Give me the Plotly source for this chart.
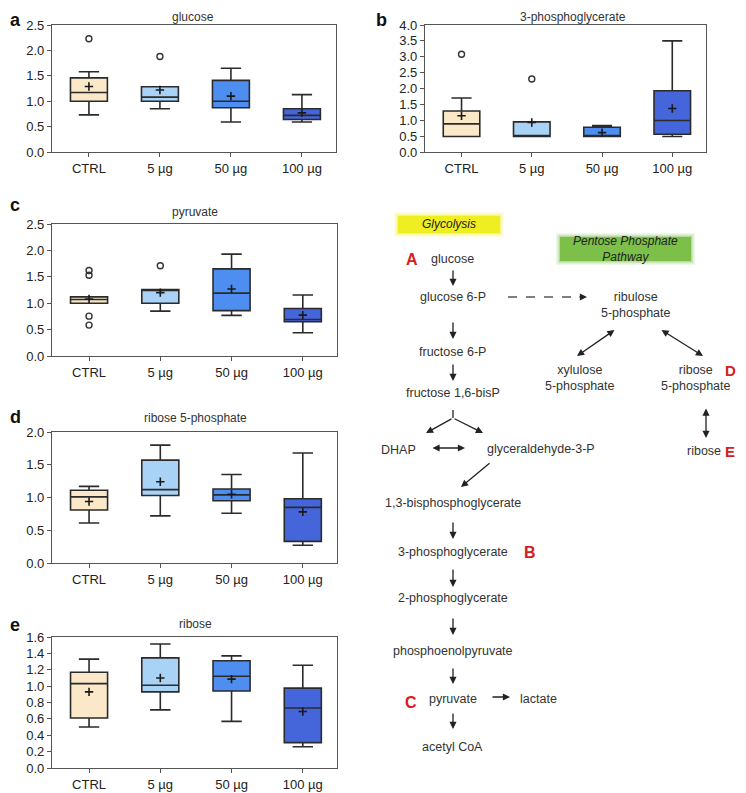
import plotly.graph_objects as go

categories = ["CTRL", "5 µg", "50 µg", "100 µg"]
colors = ["#FAE8C8", "#A9D2F7", "#4D8EF0", "#4565DB"]

# panel data: lower whisker, q1, median, q3, upper whisker, mean, outliers
glucose_low = [0.73, 0.85, 0.59, 0.59]
glucose_q1 = [1.00, 1.00, 0.87, 0.64]
glucose_med = [1.17, 1.08, 1.00, 0.72]
glucose_q3 = [1.46, 1.285, 1.41, 0.85]
glucose_up = [1.58, 1.285, 1.65, 1.13]
glucose_mean = [1.29, 1.22, 1.10, 0.77]
glucose_out = [[2.23], [1.88], [], []]

pg3_low = [0.49, 0.49, 0.49, 0.49]
pg3_q1 = [0.49, 0.49, 0.49, 0.56]
pg3_med = [0.885, 0.50, 0.50, 0.99]
pg3_q3 = [1.29, 0.95, 0.78, 1.93]
pg3_up = [1.70, 0.95, 0.83, 3.50]
pg3_mean = [1.14, 0.93, 0.61, 1.37]
pg3_out = [[3.08], [2.30], [], []]

pyr_low = [1.00, 0.85, 0.77, 0.44]
pyr_q1 = [1.00, 1.00, 0.86, 0.65]
pyr_med = [1.07, 1.26, 1.19, 0.69]
pyr_q3 = [1.12, 1.26, 1.65, 0.90]
pyr_up = [1.12, 1.26, 1.93, 1.155]
pyr_mean = [1.08, 1.20, 1.27, 0.775]
pyr_out = [[1.62, 1.53, 0.755, 0.585], [1.71], [], []]

r5p_low = [0.61, 0.72, 0.76, 0.27]
r5p_q1 = [0.81, 1.03, 0.95, 0.33]
r5p_med = [1.01, 1.12, 1.04, 0.85]
r5p_q3 = [1.11, 1.57, 1.13, 0.98]
r5p_up = [1.17, 1.80, 1.35, 1.68]
r5p_mean = [0.94, 1.24, 1.05, 0.78]
r5p_out = [[], [], [], []]

rib_low = [0.50, 0.71, 0.57, 0.26]
rib_q1 = [0.61, 0.93, 0.94, 0.31]
rib_med = [1.03, 1.01, 1.12, 0.733]
rib_q3 = [1.17, 1.345, 1.31, 0.976]
rib_up = [1.33, 1.515, 1.37, 1.255]
rib_mean = [0.93, 1.10, 1.085, 0.69]
rib_out = [[], [], [], []]

W, H = 746, 793
OFF = 8  # page body margin: the figure is drawn 8px right and down


def px(x):
    return (x - OFF) / W


def py(y):
    return 1 - (y - OFF) / H


panels = [
    dict(letter="a", title="glucose", bx=(0, 15), tx=(193, 15), px=(52, 336), py=(25, 152), rng=[0, 2.5], dt=0.5,
         d=(glucose_low, glucose_q1, glucose_med, glucose_q3, glucose_up, glucose_mean, glucose_out)),
    dict(letter="b", title="3-phosphoglycerate", bx=(374, 15), tx=(573, 15), px=(425, 706), py=(25, 152),
         rng=[0, 4.0], dt=0.5,
         d=(pg3_low, pg3_q1, pg3_med, pg3_q3, pg3_up, pg3_mean, pg3_out)),
    dict(letter="c", title="pyruvate", bx=(0, 205), tx=(195, 212), px=(52, 337), py=(224, 356), rng=[0, 2.5],
         dt=0.5,
         d=(pyr_low, pyr_q1, pyr_med, pyr_q3, pyr_up, pyr_mean, pyr_out)),
    dict(letter="d", title="ribose 5-phosphate", bx=(0, 417), tx=(195, 418), px=(52, 337), py=(432, 563),
         rng=[0, 2.0], dt=0.5,
         d=(r5p_low, r5p_q1, r5p_med, r5p_q3, r5p_up, r5p_mean, r5p_out)),
    dict(letter="e", title="ribose", bx=(0, 625), tx=(195, 624), px=(52, 337), py=(637, 768), rng=[0, 1.6],
         dt=0.2,
         d=(rib_low, rib_q1, rib_med, rib_q3, rib_up, rib_mean, rib_out)),
]

fig = go.Figure()
annotations = []
shapes = []
layout_axes = {}
font_fam = "Liberation Sans, Arial, sans-serif"

for i, p in enumerate(panels, start=1):
    xa = "x" if i == 1 else f"x{i}"
    ya = "y" if i == 1 else f"y{i}"
    low, q1, med, q3, up, mean, out = p["d"]
    for j, cat in enumerate(categories):
        fig.add_trace(go.Box(
            x=[cat], q1=[q1[j]], median=[med[j]], q3=[q3[j]],
            lowerfence=[low[j]], upperfence=[up[j]],
            fillcolor=colors[j], line=dict(color="#2b2b2b", width=1.6),
            whiskerwidth=0.55, width=0.52, boxpoints=False,
            xaxis=xa, yaxis=ya, showlegend=False, hoverinfo="skip"))
    fig.add_trace(go.Scatter(
        x=categories, y=mean, mode="markers", xaxis=xa, yaxis=ya,
        marker=dict(symbol="cross-thin", size=6, line=dict(color="#1a1a1a", width=1.6)),
        showlegend=False, hoverinfo="skip"))
    ox, oy = [], []
    for j, cat in enumerate(categories):
        for v in out[j]:
            ox.append(cat)
            oy.append(v)
    if ox:
        fig.add_trace(go.Scatter(
            x=ox, y=oy, mode="markers", xaxis=xa, yaxis=ya,
            marker=dict(symbol="circle-open", size=6, color="#333", line=dict(width=1.4)),
            showlegend=False, hoverinfo="skip"))
    x0, x1 = p["px"]
    y0, y1 = p["py"]
    key = "" if i == 1 else str(i)
    layout_axes["xaxis" + key] = dict(
        domain=[px(x0), px(x1)], anchor=ya, type="category", categoryorder="array",
        categoryarray=categories, range=[-0.52, 3.48], showline=True, mirror=True,
        linecolor="#555", linewidth=1.3, ticks="outside", ticklen=4, tickcolor="#555",
        showgrid=False, zeroline=False, tickfont=dict(size=13, color="#222", family=font_fam),
        fixedrange=True)
    layout_axes["yaxis" + key] = dict(
        domain=[py(y1), py(y0)], anchor=xa, range=p["rng"], dtick=p["dt"], tickformat=".1f",
        showline=True, mirror=True, linecolor="#555", linewidth=1.3,
        ticks="outside", ticklen=4, tickcolor="#555", showgrid=False, zeroline=False,
        tickfont=dict(size=13, color="#222", family=font_fam), fixedrange=True)
    tx, ty = p["tx"]
    top = py(ty) >= 0.99
    annotations.append(dict(text=p["title"], x=px(tx), y=1.0 if top else py(ty), xref="paper", yref="paper",
                            showarrow=False, xanchor="center", yanchor="top" if top else "middle",
                            font=dict(size=12, color="#333", family=font_fam)))
    bx, by = p["bx"]
    btop = py(by) >= 0.99
    annotations.append(dict(text="<b>" + p["letter"] + "</b>", x=max(px(bx), 0), y=1.0 if btop else py(by),
                            xref="paper", yref="paper", showarrow=False, xanchor="left",
                            yanchor="top" if btop else "middle",
                            font=dict(size=18, color="#111", family=font_fam)))


def txt(s, x, y, size=12.5, color="#333", italic=False, bold=False, anchor="center"):
    if italic:
        s = "<i>" + s + "</i>"
    if bold:
        s = "<b>" + s + "</b>"
    annotations.append(dict(text=s, x=px(x), y=py(y), xref="paper", yref="paper", showarrow=False,
                            xanchor=anchor, yanchor="middle",
                            font=dict(size=size, color=color, family=font_fam)))


def arrow(xs, ys, xe, ye, both=False):
    annotations.append(dict(x=px(xe), y=py(ye), ax=xs - xe, ay=ys - ye, xref="paper", yref="paper",
                            showarrow=True, arrowhead=2, arrowsize=1.1, arrowwidth=1.3,
                            arrowcolor="#222", text="", arrowside="end+start" if both else "end"))


def glow_box(x0, y0, x1, y1, color):
    for k, op in [(4, 0.12), (2.5, 0.2), (1.2, 0.35)]:
        shapes.append(dict(type="rect", xref="paper", yref="paper", x0=px(x0 - k), x1=px(x1 + k),
                           y0=py(y0 - k), y1=py(y1 + k),
                           fillcolor=color, opacity=op, line=dict(width=0), layer="below"))
    shapes.append(dict(type="rect", xref="paper", yref="paper", x0=px(x0), x1=px(x1), y0=py(y0), y1=py(y1),
                       fillcolor=color, line=dict(width=0), layer="below"))


glow_box(398, 216, 500, 233, "#EEEE22")
glow_box(560, 237, 691, 261, "#7CC04A")
txt("Glycolysis", 449, 224, size=12, color="#222", italic=True)
txt("Pentose Phosphate<br>Pathway", 625, 249, size=12, color="#222", italic=True)

red = "#D42020"
txt("A", 412, 259, size=16, color=red, bold=True)
txt("glucose", 453, 259)
arrow(453, 269, 453, 286)
txt("glucose 6-P", 453, 297)
shapes.append(dict(type="line", xref="paper", yref="paper", x0=px(508), x1=px(580), y0=py(297), y1=py(297),
                   line=dict(color="#555", width=1.4, dash="dash")))
arrow(578, 297, 587, 297)
txt("ribulose<br>5-phosphate", 636, 305)
arrow(453, 321, 453, 339)
txt("fructose 6-P", 453, 352)
arrow(453, 363, 453, 381)
txt("fructose 1,6-bisP", 453, 393)
shapes.append(dict(type="line", xref="paper", yref="paper", x0=px(453), x1=px(453), y0=py(410), y1=py(418),
                   line=dict(color="#222", width=1.3)))
arrow(453, 418, 426, 433)
arrow(453, 418, 483, 433)
txt("DHAP", 398, 450)
arrow(431, 448, 465, 448, both=True)
txt("glyceraldehyde-3-P", 541, 449)
arrow(491, 462, 461, 487)
arrow(616, 329, 577, 356, both=True)
arrow(660, 329, 703, 356, both=True)
txt("xylulose<br>5-phosphate", 580, 378)
txt("ribose<br>5-phosphate", 696, 378)
txt("D", 730, 370, size=15, color=red, bold=True)
arrow(706, 407, 706, 438, both=True)
txt("ribose", 704, 451)
txt("E", 730, 451, size=15, color=red, bold=True)
txt("1,3-bisphosphoglycerate", 453, 503)
arrow(453, 521, 453, 539)
txt("3-phosphoglycerate", 453, 552)
txt("B", 530, 552, size=16, color=red, bold=True)
arrow(453, 568, 453, 587)
txt("2-phosphoglycerate", 453, 598)
arrow(453, 617, 453, 635)
txt("phosphoenolpyruvate", 453, 651)
arrow(453, 667, 453, 684)
txt("pyruvate", 453, 699)
txt("C", 411, 702, size=16, color=red, bold=True)
arrow(491, 697, 510, 697)
txt("lactate", 538, 699)
arrow(453, 712, 453, 729)
txt("acetyl CoA", 453, 747)

fig.update_layout(width=W, height=H, margin=dict(l=0, r=0, t=0, b=0, autoexpand=False),
                  paper_bgcolor="white", plot_bgcolor="white",
                  annotations=annotations, shapes=shapes, showlegend=False, **layout_axes)

fig.write_html("out.html")
